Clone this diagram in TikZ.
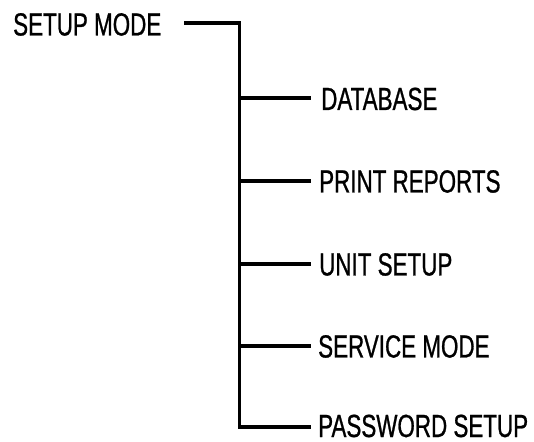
\documentclass[tikz,border=0pt]{standalone}
\usepackage{fontspec}
\newfontfamily\condfont[FakeStretch=0.70,FakeBold=0.8]{Liberation Sans}
\begin{document}
\begin{tikzpicture}[x=1pt,y=1pt,
  lbl/.style={anchor=base west,inner sep=0pt,font=\condfont\fontsize{32}{33}\selectfont},
  conn/.style={line width=3.2pt,line join=miter,line cap=butt}]
\useasboundingbox (0,0) rectangle (534,441);
\node[lbl] (root) at (13,405.5) {SETUP MODE};
\node[lbl] (db) at (321,331) {DATABASE};
\node[lbl] (pr) at (319,248.5) {PRINT REPORTS};
\node[lbl] (un) at (319,165.5) {UNIT SETUP};
\node[lbl] (sv) at (318,83.5) {SERVICE MODE};
\node[lbl] (pw) at (318,4) {PASSWORD SETUP};
\coordinate (rs) at (184,418);
\coordinate (s0) at (239.5,418);
\coordinate (s1) at (239.5,343);
\coordinate (s2) at (239.5,260);
\coordinate (s3) at (239.5,177);
\coordinate (s4) at (239.5,95);
\coordinate (s5) at (239.5,14);
\draw[conn] (rs) -- (s0) -- (s5) -- ([xshift=-7pt]pw.west |- s5);
\draw[conn] (s1) -- ([xshift=-10pt]db.west |- s1);
\draw[conn] (s2) -- ([xshift=-8pt]pr.west |- s2);
\draw[conn] (s3) -- ([xshift=-8pt]un.west |- s3);
\draw[conn] (s4) -- ([xshift=-7pt]sv.west |- s4);
\end{tikzpicture}
\end{document}
